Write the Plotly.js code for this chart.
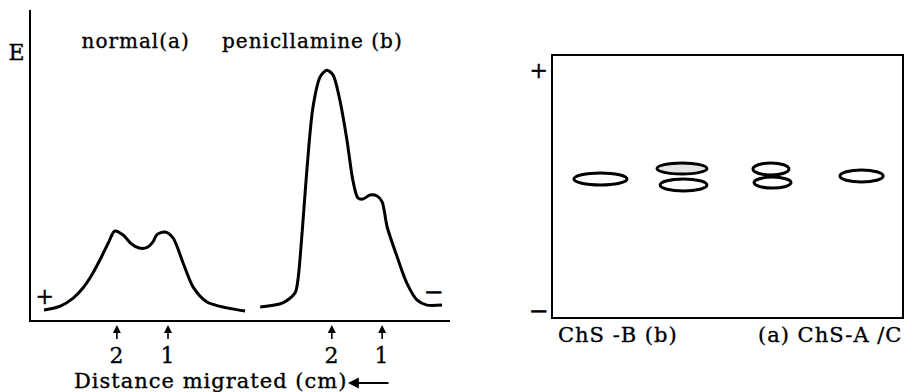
<!DOCTYPE html>
<html>
<head>
<meta charset="utf-8">
<script src="https://cdn.plot.ly/plotly-3.0.1.min.js"></script>
<style>
html,body{margin:0;padding:0;background:#fff;}
#chart{width:907px;height:392px;}
#chart .annotation-text{letter-spacing:1px;stroke:#000;stroke-width:0.35px;}
</style>
</head>
<body>
<div id="chart"></div>
<script>
// ---- Left panel: densitometric scans (distance in cm, extinction E) ----
const normalX = [0.31, 0.70, 1.00, 1.25, 1.45, 1.65, 1.85, 2.00, 2.20, 2.40, 2.58, 2.77, 2.91, 3.01, 3.20, 3.39, 3.63, 3.87, 4.20, 4.68, 5.11];
const normalY = [0.032, 0.045, 0.070, 0.105, 0.145, 0.195, 0.250, 0.287, 0.274, 0.245, 0.232, 0.234, 0.252, 0.276, 0.284, 0.265, 0.184, 0.106, 0.058, 0.039, 0.029];

const penX = [5.47, 6.01, 6.30, 6.37, 6.47, 6.59, 6.73, 6.90, 7.06, 7.21, 7.37, 7.54, 7.68, 7.80, 7.92, 8.09, 8.26, 8.38, 8.50, 8.74, 8.97, 9.21, 9.45, 9.81];
const penY = [0.042, 0.055, 0.087, 0.129, 0.281, 0.494, 0.687, 0.784, 0.806, 0.790, 0.710, 0.581, 0.452, 0.394, 0.390, 0.403, 0.400, 0.381, 0.300, 0.203, 0.119, 0.065, 0.048, 0.048];

const bandPositions = [2.05, 3.27, 7.18, 8.38];
const bandLabels = ['2', '1', '2', '1'];

// ---- Right panel: electrophoresis spots (lane position, migration) ----
const spotX0 = [0.60, 2.98, 3.07, 5.73, 5.76, 8.22];
const spotX1 = [2.12, 4.41, 4.41, 6.76, 6.82, 9.46];
const spotY0 = [5.06, 5.48, 4.83, 5.44, 4.94, 5.17];
const spotY1 = [5.52, 5.90, 5.29, 5.90, 5.36, 5.63];
const spotFill = ['none', 'stipple', 'none', 'none', 'none', 'none'];
const laneLabels = ['ChS -B (b)', '(a) ChS-A /C'];

const W = 907, H = 392;
const px = v => v / W;
const py = v => 1 - v / H;
const FONT = 'DejaVu Serif, Liberation Serif, serif';

const traces = [
  {x: normalX, y: normalY, type: 'scatter', mode: 'lines', line: {color: '#000', width: 3, shape: 'spline', smoothing: 0.8}, xaxis: 'x', yaxis: 'y', hoverinfo: 'skip'},
  {x: penX, y: penY, type: 'scatter', mode: 'lines', line: {color: '#000', width: 3, shape: 'spline', smoothing: 0.8}, xaxis: 'x', yaxis: 'y', hoverinfo: 'skip'}
];

const shapes = spotX0.map((x0, i) => ({
  type: 'circle', xref: 'x2', yref: 'y2',
  x0: x0, x1: spotX1[i], y0: spotY0[i], y1: spotY1[i],
  line: {color: '#000', width: 3},
  fillcolor: spotFill[i] === 'stipple' ? 'rgba(0,0,0,0.10)' : 'rgba(0,0,0,0)'
}));

const annotations = [];
function txt(text, x, y, size, extra) {
  annotations.push(Object.assign({text: text, x: px(x), y: py(y), xref: 'paper', yref: 'paper', showarrow: false,
    font: {family: FONT, size: size, color: '#000'}, xanchor: 'center', yanchor: 'middle'}, extra || {}));
}
txt('E', 17, 52, 22);
txt('normal(a)', 135, 41, 20);
txt('penicllamine (b)', 312, 41, 20);
txt('+', 45, 296, 22);
txt('−', 434, 292, 24);
txt('+', 539, 70, 22);
txt('−', 539, 311, 24);
txt(laneLabels[0], 618, 335, 21);
txt(laneLabels[1], 762, 335, 21, {xanchor: 'left'});
txt('Distance migrated (cm)', 210, 381, 21);
// direction arrow
annotations.push({text: '', xref: 'paper', yref: 'paper', x: px(348), y: py(383), ax: 42, ay: 0,
  showarrow: true, arrowhead: 2, arrowsize: 1.2, arrowwidth: 1.8, arrowcolor: '#000'});
// band markers
bandPositions.forEach((b, i) => {
  annotations.push({text: bandLabels[i], x: b, xref: 'x', y: py(325), yref: 'paper',
    showarrow: true, ax: 0, ay: 30, arrowhead: 2, arrowsize: 1, arrowwidth: 1.6, arrowcolor: '#000',
    startstandoff: 2, font: {family: FONT, size: 22, color: '#000'}});
});

const layout = {
  width: W, height: H,
  margin: {l: 0, r: 0, t: 0, b: 0},
  paper_bgcolor: '#fff', plot_bgcolor: 'rgba(0,0,0,0)',
  showlegend: false,
  xaxis: {domain: [px(31), px(450)], range: [0, 10], showline: true, linecolor: '#000', linewidth: 2,
    showgrid: false, zeroline: false, showticklabels: false, ticks: '', fixedrange: true},
  yaxis: {domain: [py(320), py(10)], range: [0, 1], showline: true, linecolor: '#000', linewidth: 2,
    showgrid: false, zeroline: false, showticklabels: false, ticks: '', fixedrange: true},
  xaxis2: {domain: [px(553), px(902)], range: [0, 10], anchor: 'y2', showline: true, mirror: true, linecolor: '#000', linewidth: 2,
    showgrid: false, zeroline: false, showticklabels: false, ticks: '', fixedrange: true},
  yaxis2: {domain: [py(317), py(56)], range: [0, 10], anchor: 'x2', showline: true, mirror: true, linecolor: '#000', linewidth: 2,
    showgrid: false, zeroline: false, showticklabels: false, ticks: '', fixedrange: true},
  shapes: shapes,
  annotations: annotations
};

Plotly.newPlot('chart', traces, layout, {staticPlot: true, displayModeBar: false});
</script>
</body>
</html>
